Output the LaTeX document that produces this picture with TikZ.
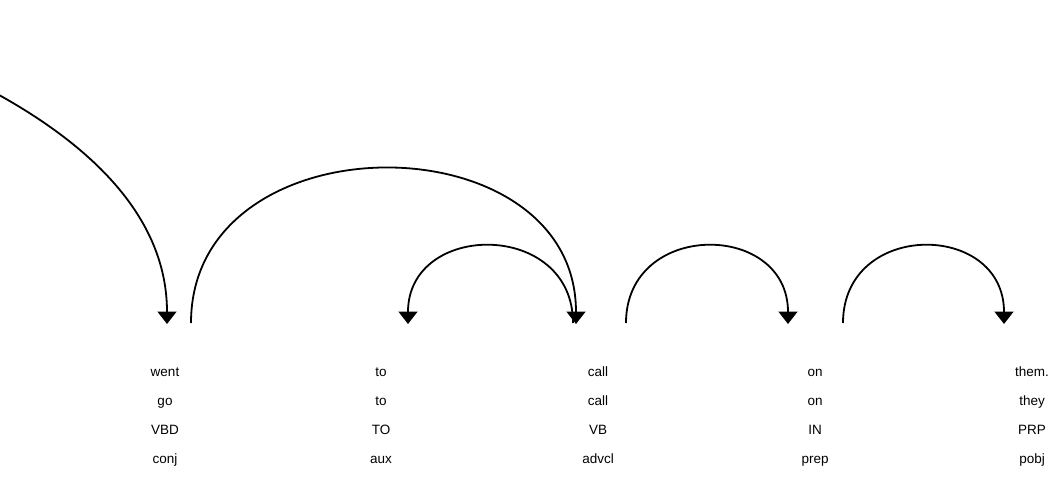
\documentclass[tikz,border=0pt]{standalone}
\usepackage{fontspec}
\setmainfont{Liberation Sans}
\usetikzlibrary{arrows.meta}
\tikzset{
  tok/.style={align=center, anchor=base, inner sep=0pt, font=\fontsize{13.5}{29}\selectfont},
  arc/.style={line width=1.8pt, -{Triangle[width=19pt,length=12.5pt]}}
}
\begin{document}
\begin{tikzpicture}[x=1pt, y=-1pt]
    \useasboundingbox (0,0) rectangle (1062,481);
    \clip (0,0) rectangle (1062,481);

    \node[tok] (went) at (165,463) {went\\go\\VBD\\conj};
    \node[tok] (to) at (381,463) {to\\to\\TO\\aux};
    \node[tok] (call) at (598,463) {call\\call\\VB\\advcl};
    \node[tok] (on) at (815,463) {on\\on\\IN\\prep};
    \node[tok] (them) at (1032,463) {them.\\they\\PRP\\pobj};

    \coordinate (head-out) at (-2333,323);
    \coordinate (went-in) at (167,324);
    \coordinate (went-out) at (191,323);
    \coordinate (to-in) at (408,324);
    \coordinate (call-in) at (576,324);
    \coordinate (call-out) at (573,323);
    \coordinate (on-out) at (626,323);
    \coordinate (on-in) at (788,324);
    \coordinate (prep-out) at (843,323);
    \coordinate (them-in) at (1004,324);

    \draw[arc] (head-out) .. controls +(0,-555) and +(0,-555) .. (went-in);
    \draw[arc] (went-out) .. controls +(0,-206) and +(0,-206) .. (call-in);
    \draw[arc] (call-out) .. controls +(0,-103) and +(0,-103) .. (to-in);
    \draw[arc] (on-out) .. controls +(0,-103) and +(0,-103) .. (on-in);
    \draw[arc] (prep-out) .. controls +(0,-103) and +(0,-103) .. (them-in);
\end{tikzpicture}
\end{document}
